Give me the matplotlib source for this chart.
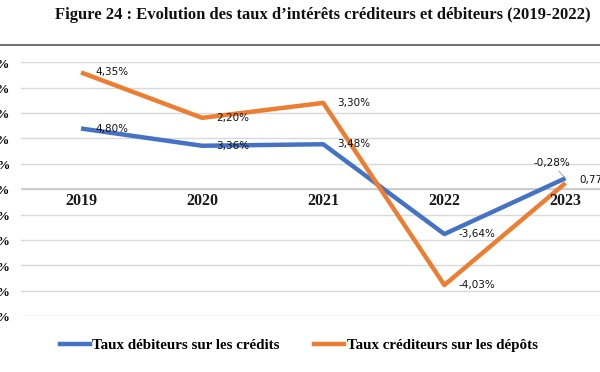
import matplotlib
matplotlib.use("Agg")
import matplotlib.pyplot as plt
from matplotlib.lines import Line2D

years = ["2019", "2020", "2021", "2022", "2023"]
taux_debiteurs = [2.39, 1.71, 1.77, -1.77, 0.43]
taux_crediteurs = [4.60, 2.81, 3.40, -3.78, 0.24]
labels_debiteurs = ["4,80%", "3,36%", "3,48%", "-3,64%", "-0,28%"]
labels_crediteurs = ["4,35%", "2,20%", "3,30%", "-4,03%", "0,77%"]
yticks = [-5, -4, -3, -2, -1, 0, 1, 2, 3, 4, 5]
series_names = ["Taux débiteurs sur les crédits", "Taux créditeurs sur les dépôts"]
title = "Figure 24 : Evolution des taux d\u2019intérêts créditeurs et débiteurs (2019-2022)"

BLUE = "#4472C4"
ORANGE = "#ED7D31"
SERIF = ["Liberation Serif", "DejaVu Serif"]

fig = plt.figure(figsize=(6, 3.72), dpi=100)
W, H = 600, 372
ax = fig.add_axes([20.5 / W, 1 - 316 / H, 605.5 / W, (316 - 62.3) / H])

x = list(range(len(years)))
ax.set_xlim(-0.5, len(years) - 0.5)
ax.set_ylim(-5, 5)
ax.set_yticks(yticks)
ax.set_yticklabels([f"{v:.2f}%".replace(".", ",") for v in yticks],
                   fontfamily=SERIF, fontweight="bold", fontsize=9.5)
ax.tick_params(axis="y", length=0, pad=7.5)
ax.set_xticks([])
for s in ax.spines.values():
    s.set_visible(False)
ax.grid(axis="y", color="#D9D9D9", linewidth=1.0)
ax.axhline(0, color="#C8C8C8", linewidth=1.2, zorder=1)
ax.set_axisbelow(True)

ax.plot(x, taux_debiteurs, color=BLUE, linewidth=3.2, solid_capstyle="butt", zorder=3)
ax.plot(x, taux_crediteurs, color=ORANGE, linewidth=3.2, solid_capstyle="butt", zorder=3)

for i, y in enumerate(years):
    ax.annotate(y, (i, 0), xytext=(0, -12), textcoords="offset pixels",
                ha="center", va="center", fontfamily=SERIF, fontweight="bold",
                fontsize=11.5, color="#1a1a1a")

lab_kw = dict(textcoords="offset pixels", ha="left", va="center",
              fontsize=7.5, color="#111111", fontfamily="DejaVu Sans", zorder=4)
for i, (v, t) in enumerate(zip(taux_debiteurs, labels_debiteurs)):
    if i == len(years) - 1:
        ax.annotate(t, (i, v), xytext=(-14, 15), arrowprops=dict(arrowstyle="-", color="#999999", lw=0.6,
                    shrinkA=0, shrinkB=0), **{**lab_kw, "ha": "center"})
    else:
        ax.annotate(t, (i, v), xytext=(14, 0), **lab_kw)
for i, (v, t) in enumerate(zip(taux_crediteurs, labels_crediteurs)):
    off = (14, 3) if i == len(years) - 1 else (14, 0)
    ax.annotate(t, (i, v), xytext=off, **lab_kw)

fig.text(0.538, 1 - 15 / H, title, ha="center", va="center", fontfamily=SERIF,
         fontweight="bold", fontsize=12.0, color="#111111")
fig.add_artist(Line2D([0, 1], [1 - 45 / H, 1 - 45 / H], color="#555555", linewidth=1.2,
                      transform=fig.transFigure))

handles = [Line2D([], [], color=BLUE, linewidth=3.2), Line2D([], [], color=ORANGE, linewidth=3.2)]
fig.legend(handles, series_names, loc="center", bbox_to_anchor=(0.498, 1 - 345 / H), ncol=2,
           frameon=False, prop=dict(family=SERIF, weight="bold", size=10.8),
           handlelength=2.0, handletextpad=0.15, columnspacing=2.3)

fig.savefig("out.png", dpi=100, facecolor="white")
